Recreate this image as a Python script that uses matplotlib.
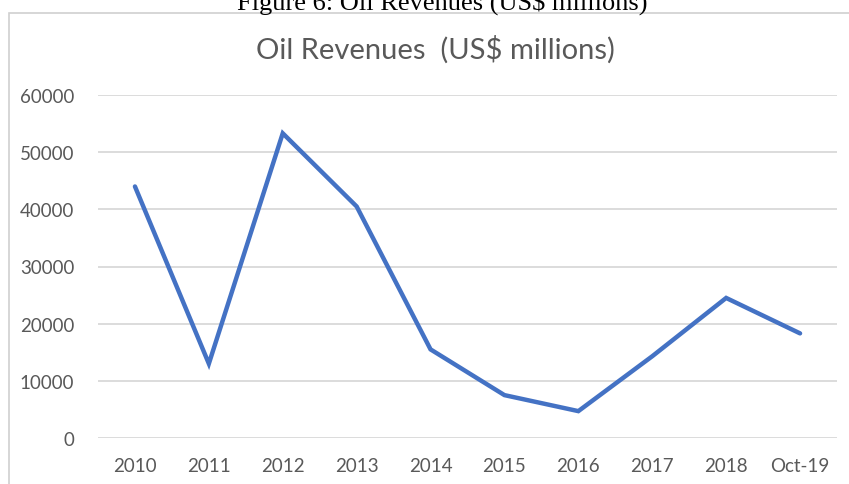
import matplotlib.pyplot as plt
from matplotlib.patches import Rectangle

# data
years = ['2010', '2011', '2012', '2013', '2014', '2015', '2016', '2017', '2018', 'Oct-19']
revenues = [44000, 13000, 53300, 40500, 15500, 7500, 4700, 14300, 24500, 18300]
y_ticks = [0, 10000, 20000, 30000, 40000, 50000, 60000]


def main():
    fig = plt.figure(figsize=(8.49, 4.85), dpi=100)

    # chart frame (cut off at right and bottom)
    frame = Rectangle((9 / 849, -0.1), 1.0, 1 - 14 / 485 + 0.1,
                      transform=fig.transFigure, fill=False,
                      edgecolor='#d0d0d0', linewidth=1.2)
    fig.patches.append(frame)

    # caption above the chart, partly cut off like in the source
    fig.text(442 / 849, 1 - 10 / 485, 'Figure 6: Oil Revenues (US$ millions)',
             ha='center', va='baseline', fontsize=19,
             family='Liberation Serif', color='black')

    ax = fig.add_axes([98 / 849, 1 - 439 / 485, (837 - 98) / 849, (439 - 96) / 485])
    x = list(range(len(years)))
    ax.plot(x, revenues, color='#4472c4', linewidth=3.2, solid_capstyle='round',
            solid_joinstyle='miter', zorder=3)

    ax.set_xlim(-0.5, len(years) - 0.5)
    ax.set_ylim(0, 60000)
    ax.set_yticks(y_ticks)
    ax.set_yticklabels([str(v) for v in y_ticks])
    ax.set_xticks(x)
    ax.set_xticklabels(years)
    ax.grid(axis='y', color='#d9d9d9', linewidth=1.3)
    ax.set_axisbelow(True)
    for s in ax.spines.values():
        s.set_visible(False)
    ax.tick_params(axis='both', length=0, labelsize=13.5, labelcolor='#595959')
    ax.tick_params(axis='y', pad=17)
    ax.tick_params(axis='x', pad=14)
    for lab in ax.get_xticklabels() + ax.get_yticklabels():
        lab.set_family('Lato')

    fig.text(435 / 849, 1 - 50 / 485, 'Oil Revenues  (US$ millions)',
             ha='center', va='center', fontsize=21, family='Lato', color='#595959')

    fig.savefig('out.png', dpi=100)
    plt.close(fig)


if __name__ == "__main__":
    main()
